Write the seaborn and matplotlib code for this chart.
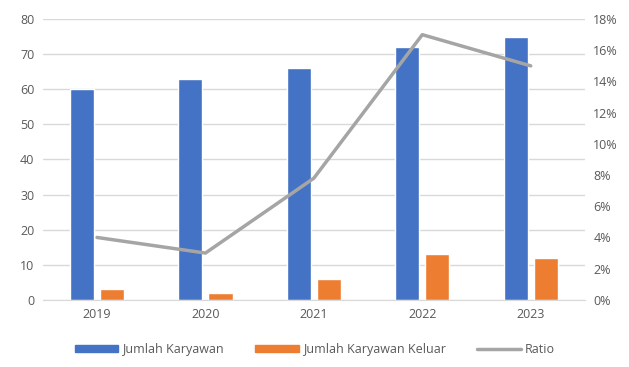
import numpy as np
import pandas as pd
import seaborn as sns
from matplotlib import pyplot as plt
from matplotlib.patches import Patch
from matplotlib.lines import Line2D
from matplotlib.ticker import PercentFormatter

years = ['2019', '2020', '2021', '2022', '2023']
jumlah_karyawan = [60, 63, 66, 72, 75]
karyawan_keluar = [3, 2, 6, 13, 12]
ratio = [4.0, 3.0, 7.8, 17.0, 15.0]

series_names = ['Jumlah Karyawan', 'Jumlah Karyawan Keluar']
colors = ['#4472c4', '#ed7d31']
line_color = '#a5a5a5'
text_color = '#595959'

df = pd.DataFrame({
    'year': years * 2,
    'value': jumlah_karyawan + karyawan_keluar,
    'series': [series_names[0]] * len(years) + [series_names[1]] * len(years),
})

sns.set_style('white')
plt.rcParams['font.family'] = ['Open Sans', 'DejaVu Sans']

fig = plt.figure(figsize=(6.29, 3.67), dpi=100)
ax = fig.add_axes([0.068, 0.183, 0.862, 0.765])

sns.barplot(data=df, x='year', y='value', hue='series', palette=colors,
            width=0.555, gap=0.2, saturation=1, legend=False, ax=ax)
ax.set_ylim(0, 80)
ax.set_yticks(np.arange(0, 81, 10))
ax.yaxis.grid(True, color='#d9d9d9', linewidth=1)
ax.set_axisbelow(True)
ax.set_xlabel('')
ax.set_ylabel('')

ax2 = ax.twinx()
sns.pointplot(x=years, y=ratio, color=line_color, markers='',
              linewidth=2.5, ax=ax2)
ax2.set_ylim(0, 18)
ax2.set_yticks(np.arange(0, 19, 2))
ax2.yaxis.set_major_formatter(PercentFormatter(decimals=0))
ax2.grid(False)

for a in (ax, ax2):
    for side in ['top', 'left', 'right', 'bottom']:
        a.spines[side].set_visible(False)
    a.tick_params(length=0, labelsize=9, colors=text_color, pad=6)
ax.spines['bottom'].set_visible(True)
ax.spines['bottom'].set_color('#d9d9d9')

handles = [Patch(color=colors[0], label=series_names[0]),
           Patch(color=colors[1], label=series_names[1]),
           Line2D([], [], color=line_color, linewidth=2.5, label='Ratio')]
fig.legend(handles=handles, loc='lower center', ncol=3, frameon=False,
           bbox_to_anchor=(0.5, 0.0), fontsize=9, labelcolor=text_color,
           handlelength=3.5, handleheight=0.5, columnspacing=2.5,
           handletextpad=0.3)

plt.savefig('out.png', dpi=100)
plt.close()
